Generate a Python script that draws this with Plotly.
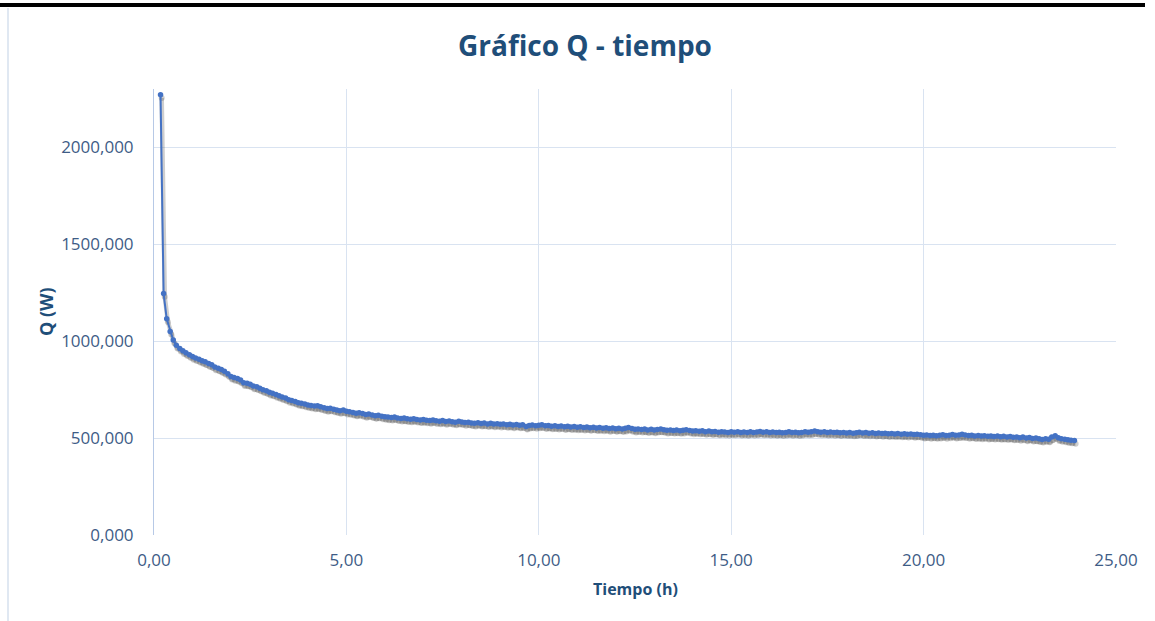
import plotly.graph_objects as go

# Tiempo (h), one row per hour of test
tiempo_h = [
    0.17, 0.25, 0.33, 0.42, 0.50, 0.58, 0.67, 0.75, 0.83, 0.92, 1.00,
    1.08, 1.17, 1.25, 1.33, 1.42, 1.50, 1.58, 1.67, 1.75, 1.83, 1.92, 2.00,
    2.08, 2.17, 2.25, 2.33, 2.42, 2.50, 2.58, 2.67, 2.75, 2.83, 2.92, 3.00,
    3.08, 3.17, 3.25, 3.33, 3.42, 3.50, 3.58, 3.67, 3.75, 3.83, 3.92, 4.00,
    4.08, 4.17, 4.25, 4.33, 4.42, 4.50, 4.58, 4.67, 4.75, 4.83, 4.92, 5.00,
    5.08, 5.17, 5.25, 5.33, 5.42, 5.50, 5.58, 5.67, 5.75, 5.83, 5.92, 6.00,
    6.08, 6.17, 6.25, 6.33, 6.42, 6.50, 6.58, 6.67, 6.75, 6.83, 6.92, 7.00,
    7.08, 7.17, 7.25, 7.33, 7.42, 7.50, 7.58, 7.67, 7.75, 7.83, 7.92, 8.00,
    8.08, 8.17, 8.25, 8.33, 8.42, 8.50, 8.58, 8.67, 8.75, 8.83, 8.92, 9.00,
    9.08, 9.17, 9.25, 9.33, 9.42, 9.50, 9.58, 9.67, 9.75, 9.83, 9.92, 10.00,
    10.08, 10.17, 10.25, 10.33, 10.42, 10.50, 10.58, 10.67, 10.75, 10.83, 10.92, 11.00,
    11.08, 11.17, 11.25, 11.33, 11.42, 11.50, 11.58, 11.67, 11.75, 11.83, 11.92, 12.00,
    12.08, 12.17, 12.25, 12.33, 12.42, 12.50, 12.58, 12.67, 12.75, 12.83, 12.92, 13.00,
    13.08, 13.17, 13.25, 13.33, 13.42, 13.50, 13.58, 13.67, 13.75, 13.83, 13.92, 14.00,
    14.08, 14.17, 14.25, 14.33, 14.42, 14.50, 14.58, 14.67, 14.75, 14.83, 14.92, 15.00,
    15.08, 15.17, 15.25, 15.33, 15.42, 15.50, 15.58, 15.67, 15.75, 15.83, 15.92, 16.00,
    16.08, 16.17, 16.25, 16.33, 16.42, 16.50, 16.58, 16.67, 16.75, 16.83, 16.92, 17.00,
    17.08, 17.17, 17.25, 17.33, 17.42, 17.50, 17.58, 17.67, 17.75, 17.83, 17.92, 18.00,
    18.08, 18.17, 18.25, 18.33, 18.42, 18.50, 18.58, 18.67, 18.75, 18.83, 18.92, 19.00,
    19.08, 19.17, 19.25, 19.33, 19.42, 19.50, 19.58, 19.67, 19.75, 19.83, 19.92, 20.00,
    20.08, 20.17, 20.25, 20.33, 20.42, 20.50, 20.58, 20.67, 20.75, 20.83, 20.92, 21.00,
    21.08, 21.17, 21.25, 21.33, 21.42, 21.50, 21.58, 21.67, 21.75, 21.83, 21.92, 22.00,
    22.08, 22.17, 22.25, 22.33, 22.42, 22.50, 22.58, 22.67, 22.75, 22.83, 22.92, 23.00,
    23.08, 23.17, 23.25, 23.33, 23.42, 23.50, 23.58, 23.67, 23.75, 23.83, 23.92,
]

# Q (W), same rows as tiempo_h
q_w = [
    2270, 1245, 1115, 1050, 1005, 978, 962, 950, 940, 930, 920,
    913, 906, 899, 893, 884, 878, 866, 860, 853, 844, 832, 818,
    812, 807, 799, 785, 783, 778, 768, 765, 757, 749, 744, 736,
    731, 724, 718, 712, 706, 698, 694, 689, 682, 680, 675, 671,
    668, 665, 666, 661, 656, 652, 654, 649, 645, 641, 644, 638,
    636, 632, 628, 631, 626, 621, 624, 619, 615, 618, 613, 610,
    608, 606, 609, 604, 601, 603, 599, 597, 600, 596, 593, 595,
    592, 590, 593, 589, 587, 590, 585, 588, 584, 582, 586, 583,
    580, 582, 578, 576, 579, 575, 577, 573, 576, 572, 574, 571,
    573, 569, 571, 567, 570, 566, 568, 560, 565, 567, 564, 566,
    568, 563, 565, 561, 563, 560, 562, 558, 561, 557, 559, 556,
    558, 555, 557, 553, 556, 552, 554, 551, 553, 549, 552, 548,
    551, 547, 550, 554, 549, 545, 547, 544, 546, 542, 545, 541,
    544, 546, 543, 540, 542, 539, 541, 538, 540, 543, 539, 536,
    538, 535, 537, 533, 536, 532, 534, 530, 533, 531, 529, 532,
    530, 533, 529, 531, 528, 532, 529, 531, 534, 530, 532, 529,
    531, 528, 530, 527, 529, 532, 528, 530, 527, 529, 533, 530,
    532, 536, 533, 530, 532, 529, 531, 528, 530, 527, 529, 526,
    528, 525, 527, 530, 526, 528, 525, 527, 524, 526, 523, 525,
    522, 524, 521, 523, 520, 522, 519, 521, 518, 520, 517, 514,
    516, 513, 515, 512, 514, 517, 513, 515, 518, 514, 516, 519,
    516, 513, 515, 511, 513, 510, 512, 509, 511, 508, 510, 507,
    509, 506, 508, 504, 506, 502, 505, 500, 503, 498, 500, 496,
    493, 497, 494, 505, 512, 501, 497, 494, 491, 489, 487,
]

y_ticks = [0, 500, 1000, 1500, 2000]
x_ticks = [0, 5, 10, 15, 20, 25]

blue = "#4472C4"
grid = "#D9E3F1"
text_blue = "#3E5C86"
title_blue = "#1F4E79"

x_range = [0, 25]
y_range = [0, 2300]

fig = go.Figure()

# Excel-like drop shadow: same series on hidden base axes, nudged a few px
fig.add_trace(
    go.Scatter(
        x=tiempo_h, y=q_w, mode="lines+markers",
        line=dict(color="rgba(60,60,60,0.25)", width=4.5),
        marker=dict(size=6, color="rgba(60,60,60,0.25)"),
        xaxis="x", yaxis="y", hoverinfo="skip", showlegend=False,
    )
)
fig.add_trace(
    go.Scatter(
        x=tiempo_h, y=q_w, mode="lines+markers",
        line=dict(color=blue, width=2),
        marker=dict(size=5.5, color=blue),
        xaxis="x2", yaxis="y2", showlegend=False,
    )
)

fig.update_layout(
    width=1155, height=621,
    margin=dict(l=154, r=39, t=89, b=86),
    paper_bgcolor="white", plot_bgcolor="white",
    separators=", ",
    font=dict(family="Open Sans, sans-serif", size=17, color=text_blue),
    title=dict(
        text="<b>Gráfico Q - tiempo</b>",
        x=585 / 1155, xref="container", xanchor="center",
        y=1 - 46 / 621, yref="container", yanchor="middle",
        font=dict(family="Open Sans, sans-serif", size=28, color=title_blue),
    ),
    # hidden base axes carry the shadow
    xaxis=dict(range=[x_range[0] - 0.03, x_range[1] - 0.03], visible=False, fixedrange=True),
    yaxis=dict(range=[y_range[0] + 16, y_range[1] + 16], visible=False, fixedrange=True),
    xaxis2=dict(
        range=x_range, overlaying="x", anchor="y2",
        tickvals=x_ticks, tickformat=".2f",
        showgrid=True, gridcolor=grid, gridwidth=1,
        zeroline=False, showline=False, ticks="",
        ticklabelstandoff=13,
    ),
    yaxis2=dict(
        range=y_range, overlaying="y", anchor="x2",
        tickvals=y_ticks, tickformat=".3f",
        showgrid=True, gridcolor=grid, gridwidth=1,
        zeroline=False, showline=True, linecolor="#B7C9E6", linewidth=1,
        ticks="", ticklabelstandoff=16,
    ),
    annotations=[
        dict(text="<b>Q (W)</b>", xref="paper", yref="paper",
             x=(46 - 154) / 962, y=0.5, textangle=-90, showarrow=False,
             xanchor="center", yanchor="middle",
             font=dict(size=18, color=title_blue)),
        dict(text="<b>Tiempo (h)</b>", xref="paper", yref="paper",
             x=0.5, y=(535 - 589) / 446, showarrow=False,
             xanchor="center", yanchor="middle",
             font=dict(size=16, color=title_blue)),
    ],
    shapes=[
        # black rule across the top of the screenshot
        dict(type="line", xref="paper", yref="paper",
             x0=-154 / 962, x1=(1145 - 154) / 962, y0=530 / 446, y1=530 / 446,
             line=dict(color="black", width=4)),
        # faint chart frame on the left
        dict(type="line", xref="paper", yref="paper",
             x0=(8 - 154) / 962, x1=(8 - 154) / 962, y0=(535 - 8) / 446, y1=(535 - 625) / 446,
             line=dict(color="#D6E0EE", width=1.5)),
    ],
)

# drop the browser's default 8px body margin so the figure sits at (0, 0)
fig.write_html(
    "out.html",
    config={"displayModeBar": False},
    post_script="document.body.style.margin='0';",
)
